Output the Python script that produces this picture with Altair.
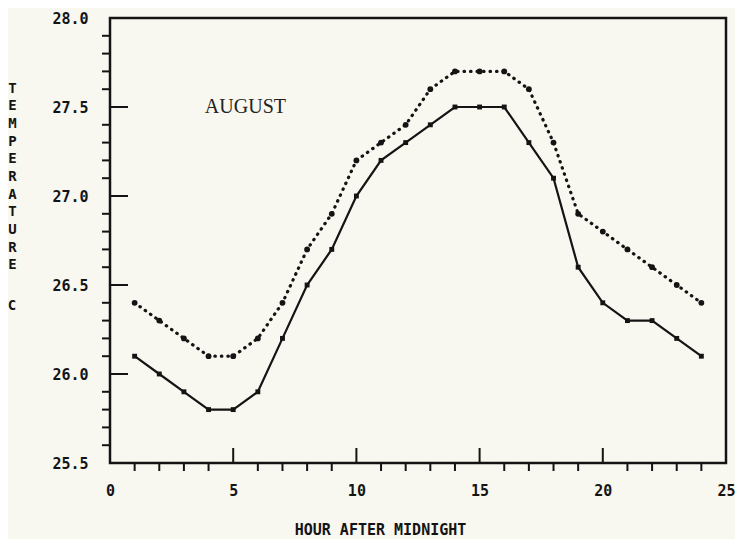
import altair as alt
import pandas as pd

hours = list(range(1, 25))
solid_vals = [26.1, 26.0, 25.9, 25.8, 25.8, 25.9, 26.2, 26.5, 26.7, 27.0, 27.2, 27.3,
              27.4, 27.5, 27.5, 27.5, 27.3, 27.1, 26.6, 26.4, 26.3, 26.3, 26.2, 26.1]
dotted_vals = [26.4, 26.3, 26.2, 26.1, 26.1, 26.2, 26.4, 26.7, 26.9, 27.2, 27.3, 27.4,
               27.6, 27.7, 27.7, 27.7, 27.6, 27.3, 26.9, 26.8, 26.7, 26.6, 26.5, 26.4]
y_major = [25.5, 26.0, 26.5, 27.0, 27.5, 28.0]
y_minor = [25.6, 25.7, 25.8, 25.9, 26.1, 26.2, 26.3, 26.4, 26.6, 26.7, 26.8, 26.9,
           27.1, 27.2, 27.3, 27.4, 27.6, 27.7, 27.8, 27.9]
x_major = [0, 5, 10, 15, 20, 25]
x_major_inner = [5, 10, 15, 20]
x_minor = [1, 2, 3, 4, 6, 7, 8, 9, 11, 12, 13, 14, 16, 17, 18, 19, 21, 22, 23, 24]
label_text = ["AUGUST"]
label_x = [3.85]
label_y = [27.5]
unit_text = ["C"]

W, H = 616, 445
INK = "#141414"
MONO = "DejaVu Sans Mono"

solid_df = pd.DataFrame({"hour": hours, "temp": solid_vals})
dotted_df = pd.DataFrame({"hour": hours, "temp": dotted_vals})

xscale = alt.Scale(domain=[0, 25], nice=False, zero=False)
yscale = alt.Scale(domain=[25.5, 28.0], nice=False, zero=False)

xaxis = alt.Axis(values=x_major, format="d", ticks=False, domain=False, grid=False,
                 labelFont=MONO, labelFontWeight="bold", labelFontSize=15, labelColor=INK,
                 labelPadding=20, labelFlush=False,
                 title="HOUR AFTER MIDNIGHT", titleFont=MONO, titleFontWeight="bold",
                 titleFontSize=15, titleColor=INK, titleX=270, titleY=66,
                 titleBaseline="middle", titleAlign="center")
yaxis = alt.Axis(values=y_major, format=".1f", ticks=False, domain=False, grid=False,
                 labelFont=MONO, labelFontWeight="bold", labelFontSize=15, labelColor=INK,
                 labelPadding=22, labelFlush=False, labelBaseline="middle",
                 title=list("TEMPERATURE"), titleFont=MONO,
                 titleFontWeight="bold", titleFontSize=14, titleColor=INK,
                 titleAngle=0, titleX=-98, titleY=63, titleBaseline="top",
                 titleAlign="center", titleLineHeight=17.7)

solid_line = alt.Chart(solid_df).mark_line(
    color=INK, strokeWidth=2.2,
    point=alt.OverlayMarkDef(shape="square", size=24, filled=True, color=INK)
).encode(
    x=alt.X("hour:Q", scale=xscale, axis=xaxis),
    y=alt.Y("temp:Q", scale=yscale, axis=yaxis),
)

dotted_line = alt.Chart(dotted_df).mark_line(
    color=INK, strokeWidth=3.2, strokeDash=[0.5, 6], strokeCap="round"
).encode(x=alt.X("hour:Q", scale=xscale), y=alt.Y("temp:Q", scale=yscale))

dotted_pts = alt.Chart(dotted_df).mark_circle(color=INK, size=34, opacity=1).encode(
    x=alt.X("hour:Q", scale=xscale), y=alt.Y("temp:Q", scale=yscale))

ymin_df = pd.DataFrame({"v": y_minor})
ymaj_df = pd.DataFrame({"v": y_major[1:-1]})
xmin_df = pd.DataFrame({"v": x_minor})
xmaj_df = pd.DataFrame({"v": x_major_inner})

y_minor_ticks = alt.Chart(ymin_df).mark_rule(color=INK, strokeWidth=2).encode(
    y=alt.Y("v:Q", scale=yscale), x=alt.value(-8), x2=alt.value(0))
y_major_ticks = alt.Chart(ymaj_df).mark_rule(color=INK, strokeWidth=2).encode(
    y=alt.Y("v:Q", scale=yscale), x=alt.value(0), x2=alt.value(18))
x_minor_ticks = alt.Chart(xmin_df).mark_rule(color=INK, strokeWidth=2).encode(
    x=alt.X("v:Q", scale=xscale), y=alt.value(H), y2=alt.value(H + 8))
x_major_ticks = alt.Chart(xmaj_df).mark_rule(color=INK, strokeWidth=2).encode(
    x=alt.X("v:Q", scale=xscale), y=alt.value(H - 15), y2=alt.value(H))

label_df = pd.DataFrame({"t": label_text, "x": label_x, "y": label_y})
label = alt.Chart(label_df).mark_text(
    font="Liberation Serif", fontSize=20, color="#222222", align="left", baseline="middle"
).encode(x=alt.X("x:Q", scale=xscale), y=alt.Y("y:Q", scale=yscale), text="t:N")

unit_df = pd.DataFrame({"t": unit_text})
unit = alt.Chart(unit_df).mark_text(
    font=MONO, fontWeight="bold", fontSize=14, color=INK, align="center", baseline="middle"
).encode(x=alt.value(-98), y=alt.value(288), text="t:N")

chart = alt.layer(
    y_minor_ticks, y_major_ticks, x_minor_ticks, x_major_ticks,
    dotted_line, dotted_pts, solid_line, label, unit
).properties(
    width=W, height=H,
    autosize=alt.AutoSizeParams(type="none"),
    padding={"left": 102, "top": 10, "right": 9, "bottom": 76},
    background="#f8f7f0",
).configure_view(stroke=INK, strokeWidth=2.5)

chart.save("out.html", embed_options={"renderer": "svg", "actions": False})
